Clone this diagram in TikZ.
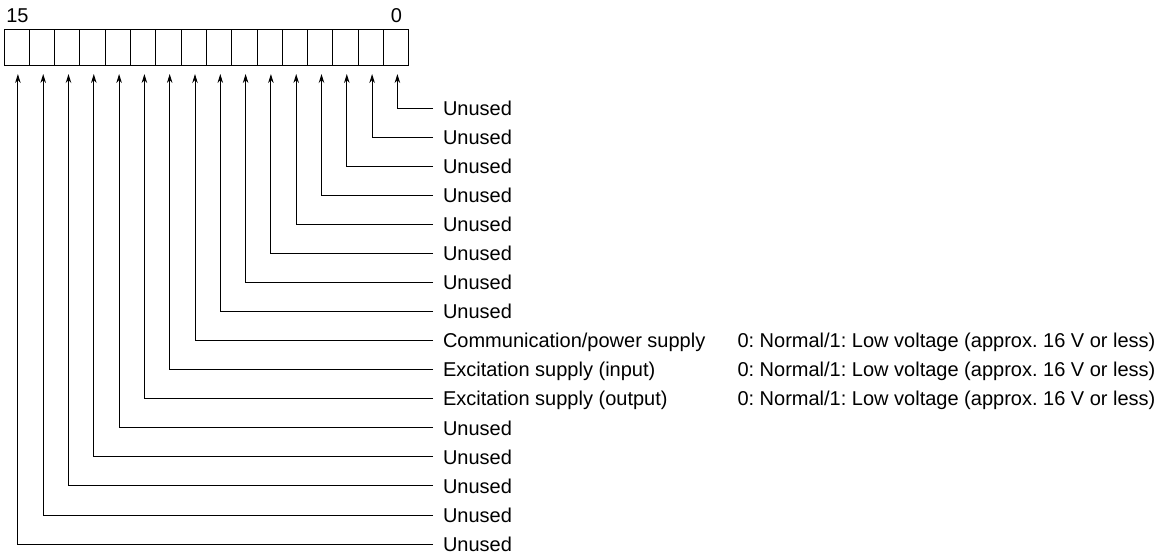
\documentclass[tikz,border=0pt]{standalone}
\usepackage{fontspec}
\setmainfont{Liberation Sans}
\usetikzlibrary{arrows.meta}
\tikzset{
  cell/.style={draw, line width=0.9pt, minimum width=25.3pt, minimum height=36pt, inner sep=0pt, outer sep=0pt},
  lbl/.style={anchor=west, inner xsep=10pt, inner ysep=0pt, outer sep=0pt, text height=14.5pt, text depth=0pt, font=\fontsize{20}{24}\selectfont\frenchspacing},
  desc/.style={anchor=west, inner sep=0pt, outer sep=0pt, text height=14.5pt, text depth=0pt, font=\fontsize{20}{24}\selectfont\frenchspacing},
  num/.style={anchor=base, inner sep=0pt, font=\fontsize{20}{24}\selectfont},
  conn/.style={line width=0.9pt, -{Stealth[length=9pt,width=5.5pt]}}
}
\begin{document}
\begin{tikzpicture}[x=1pt,y=-1pt]
\useasboundingbox (0,0) rectangle (1165,556);
% register cells
\foreach \b in {0,...,15}{
  \pgfmathsetmacro{\cx}{4+25.3*(15-\b)+12.65}
  \node[cell] (c\b) at (\cx,47) {};
  \pgfmathsetmacro{\ax}{17.9+25.3*(15-\b)}
  \coordinate (a\b) at (\ax,74);
}
\node[num] (n15) at (17.5,23) {15};
\node[num] (n0) at (396.5,23) {0};
% labels
\foreach \b/\t in {0/Unused,1/Unused,2/Unused,3/Unused,4/Unused,5/Unused,6/Unused,7/Unused,
  8/Communication\slash power supply,9/Excitation supply (input),10/Excitation supply (output),
  11/Unused,12/Unused,13/Unused,14/Unused,15/Unused}{
  \pgfmathsetmacro{\ly}{108+29.07*\b}
  \node[lbl] (l\b) at (433,\ly) {\t};
  \draw[conn] (l\b.west) -| (a\b);
}
\foreach \b in {8,9,10}{
  \pgfmathsetmacro{\ly}{108+29.07*\b}
  \node[desc] (d\b) at (737.5,\ly) {0: Normal/1: Low voltage (approx. 16 V or less)};
}
\end{tikzpicture}
\end{document}
